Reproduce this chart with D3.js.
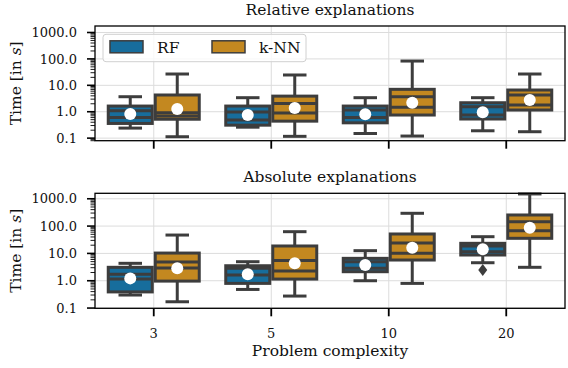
<!DOCTYPE html>
<html>
<head>
<meta charset="utf-8">
<script src="https://cdn.jsdelivr.net/npm/d3@7"></script>
<style>
  body { margin: 0; background: #fff; }
  text { font-family: "DejaVu Serif", serif; fill: #111; }
</style>
</head>
<body>
<div id="chart"></div>
<script>
const width = 568, height = 368;

// complexity levels and models
const categories = ["3", "5", "10", "20"];
const models = ["RF", "k-NN"];
const colors = ["#176d9c", "#c38820"];

// each stat: [RF values per complexity, k-NN values per complexity]
const relLow    = [[0.24, 0.26, 0.15, 0.19], [0.113, 0.117, 0.12, 0.175]];
const relQ1     = [[0.36, 0.31, 0.38, 0.53], [0.52, 0.44, 0.75, 1.16]];
const relMedian = [[0.61, 0.49, 0.61, 0.75], [0.69, 0.89, 1.47, 1.79]];
const relInner  = [[1.09, 0.97, 1.16, 1.55], [0.92, 2.04, 3.7, 4.29]];
const relQ3     = [[1.64, 1.64, 1.64, 2.19], [4.3, 3.9, 7.05, 6.64]];
const relHigh   = [[3.7, 3.4, 3.4, 3.4], [26.8, 24.6, 83, 26.8]];
const relMean   = [[0.82, 0.75, 0.80, 0.95], [1.27, 1.38, 2.19, 2.77]];

const absLow    = [[0.30, 0.48, 1.0, 4.56], [0.17, 0.275, 0.80, 3.1]];
const absQ1     = [[0.39, 0.80, 2.14, 8.74], [0.97, 1.15, 5.73, 35.7]];
const absMedian = [[1.72, 1.62, 2.85, 11.5], [2.92, 5.5, 10.1, 67.9]];
const absInner  = [[1.15, 2.85, 4.97, 18.7], [4.84, 2.27, 24, 145]];
const absQ3     = [[3.1, 3.54, 6.6, 23.4], [10.3, 18.7, 51.4, 255]];
const absHigh   = [[4.34, 4.97, 12.6, 40.9], [47, 62.4, 294, 1500]];
const absMean   = [[1.22, 1.72, 3.76, 14.1], [2.85, 4.34, 16.2, 87.3]];
const absOutliers = [{model: 0, cat: 3, value: 2.47}];

const majorTicks = [0.1, 1, 10, 100, 1000];

const svg = d3.select("#chart").append("svg")
    .attr("width", width)
    .attr("height", height);

const left = 95, right = 565;
const x = d3.scaleBand().domain(categories).range([left, right]).padding(0);
const hue = d3.scaleBand().domain(models).range([-x.bandwidth() * 0.4, x.bandwidth() * 0.4]);
const edge = "#3d3d3d";
const lw = 3;
const labelSize = 15.5;

function panel(opt) {
  const g = svg.append("g");
  const y = d3.scaleLog().domain(opt.domain).range([opt.bottom, opt.top]);

  // grid
  g.selectAll(".gy").data(majorTicks).enter().append("line")
      .attr("x1", left).attr("x2", right)
      .attr("y1", d => y(d)).attr("y2", d => y(d))
      .attr("stroke", "#dcdcdc").attr("stroke-width", 1);
  g.selectAll(".gx").data(categories).enter().append("line")
      .attr("x1", d => x(d) + x.bandwidth() / 2).attr("x2", d => x(d) + x.bandwidth() / 2)
      .attr("y1", opt.top).attr("y2", opt.bottom)
      .attr("stroke", "#dcdcdc").attr("stroke-width", 1);

  // boxes
  const boxes = [];
  models.forEach((m, mi) => {
    categories.forEach((c, ci) => {
      boxes.push({
        mi, cx: x(c) + x.bandwidth() / 2 + hue(m) + hue.bandwidth() / 2,
        lo: opt.low[mi][ci], q1: opt.q1[mi][ci], med: opt.median[mi][ci],
        inner: opt.inner[mi][ci], q3: opt.q3[mi][ci], hi: opt.high[mi][ci],
        mean: opt.mean[mi][ci]
      });
    });
  });
  const bw = hue.bandwidth() - 3;
  const capW = hue.bandwidth() * 0.5;
  const bg = g.selectAll(".box").data(boxes).enter().append("g");
  bg.append("line").attr("x1", d => d.cx).attr("x2", d => d.cx)
      .attr("y1", d => y(d.q3)).attr("y2", d => y(d.hi))
      .attr("stroke", edge).attr("stroke-width", lw);
  bg.append("line").attr("x1", d => d.cx).attr("x2", d => d.cx)
      .attr("y1", d => y(d.q1)).attr("y2", d => y(d.lo))
      .attr("stroke", edge).attr("stroke-width", lw);
  ["hi", "lo"].forEach(k => {
    bg.append("line").attr("x1", d => d.cx - capW / 2).attr("x2", d => d.cx + capW / 2)
        .attr("y1", d => y(d[k])).attr("y2", d => y(d[k]))
        .attr("stroke", edge).attr("stroke-width", lw);
  });
  bg.append("rect")
      .attr("x", d => d.cx - bw / 2).attr("width", bw)
      .attr("y", d => y(d.q3)).attr("height", d => y(d.q1) - y(d.q3))
      .attr("fill", d => colors[d.mi])
      .attr("stroke", edge).attr("stroke-width", lw);
  ["med", "inner"].forEach(k => {
    bg.append("line").attr("x1", d => d.cx - bw / 2).attr("x2", d => d.cx + bw / 2)
        .attr("y1", d => y(d[k])).attr("y2", d => y(d[k]))
        .attr("stroke", edge).attr("stroke-width", lw);
  });
  bg.append("circle").attr("cx", d => d.cx).attr("cy", d => y(d.mean))
      .attr("r", 6).attr("fill", "#fff");

  // outliers (diamonds)
  (opt.outliers || []).forEach(o => {
    const cx = x(categories[o.cat]) + x.bandwidth() / 2 + hue(models[o.model]) + hue.bandwidth() / 2;
    const cy = y(o.value);
    g.append("path")
        .attr("d", `M${cx},${cy - 6}L${cx + 4.5},${cy}L${cx},${cy + 6}L${cx - 4.5},${cy}Z`)
        .attr("fill", edge);
  });

  // frame
  g.append("rect").attr("x", left).attr("y", opt.top)
      .attr("width", right - left).attr("height", opt.bottom - opt.top)
      .attr("fill", "none").attr("stroke", "#000").attr("stroke-width", 1.3);

  // y ticks
  const minor = [];
  d3.range(-2, 4).forEach(e => {
    d3.range(2, 10).forEach(k => {
      const v = k * Math.pow(10, e);
      if (v >= opt.domain[0] && v <= opt.domain[1]) minor.push(v);
    });
  });
  g.selectAll(".ym").data(minor).enter().append("line")
      .attr("x1", left - 4.5).attr("x2", left)
      .attr("y1", d => y(d)).attr("y2", d => y(d))
      .attr("stroke", "#000").attr("stroke-width", 0.9);
  g.selectAll(".yM").data(majorTicks).enter().append("line")
      .attr("x1", left - 8).attr("x2", left)
      .attr("y1", d => y(d)).attr("y2", d => y(d))
      .attr("stroke", "#000").attr("stroke-width", 1.6);
  g.selectAll(".yl").data(majorTicks).enter().append("text")
      .attr("x", left - 18).attr("y", d => y(d)).attr("dy", "0.36em")
      .attr("text-anchor", "end").attr("font-size", 13)
      .text(d => d3.format(".1f")(d));

  // x ticks
  g.selectAll(".xt").data(categories).enter().append("line")
      .attr("x1", d => x(d) + x.bandwidth() / 2).attr("x2", d => x(d) + x.bandwidth() / 2)
      .attr("y1", opt.bottom).attr("y2", opt.bottom + 8)
      .attr("stroke", "#000").attr("stroke-width", 1.8);

  // title
  g.append("text").attr("x", (left + right) / 2).attr("y", opt.top - 11)
      .attr("text-anchor", "middle").attr("font-size", labelSize).text(opt.title);

  // y label
  const yl = g.append("text")
      .attr("transform", `translate(20.5,${(opt.top + opt.bottom) / 2}) rotate(-90)`)
      .attr("text-anchor", "middle").attr("font-size", labelSize);
  yl.append("tspan").text("Time [in ");
  yl.append("tspan").attr("font-style", "italic").text("s");
  yl.append("tspan").text("]");

  return {g, y};
}

const topPanel = panel({
  top: 26, bottom: 140.7, domain: [0.08, 1762], title: "Relative explanations",
  low: relLow, q1: relQ1, median: relMedian, inner: relInner, q3: relQ3, high: relHigh, mean: relMean
});
const bottomPanel = panel({
  top: 193.3, bottom: 308.3, domain: [0.098, 1585], title: "Absolute explanations",
  low: absLow, q1: absQ1, median: absMedian, inner: absInner, q3: absQ3, high: absHigh, mean: absMean,
  outliers: absOutliers
});

// x tick labels and axis title
svg.selectAll(".xl").data(categories).enter().append("text")
    .attr("x", d => x(d) + x.bandwidth() / 2).attr("y", 338)
    .attr("text-anchor", "middle").attr("font-size", 13).text(d => d);
svg.append("text").attr("x", (left + right) / 2).attr("y", 356)
    .attr("text-anchor", "middle").attr("font-size", labelSize).text("Problem complexity");

// legend
const legend = topPanel.g.append("g").attr("transform", "translate(103,34.3)");
legend.append("rect").attr("width", 203).attr("height", 27.4).attr("rx", 3)
    .attr("fill", "#fff").attr("fill-opacity", 0.8)
    .attr("stroke", "#d0d0d0").attr("stroke-width", 1);
const legendX = d3.scaleOrdinal().domain(models).range([7, 109]);
const li = legend.selectAll(".li").data(models).enter().append("g")
    .attr("transform", d => `translate(${legendX(d)},6.5)`);
li.append("rect").attr("width", 33).attr("height", 12)
    .attr("fill", (d, i) => colors[i]).attr("stroke", edge).attr("stroke-width", 1.5);
li.append("text").attr("x", 47).attr("y", 12).attr("font-size", labelSize).text(d => d);
</script>
</body>
</html>
